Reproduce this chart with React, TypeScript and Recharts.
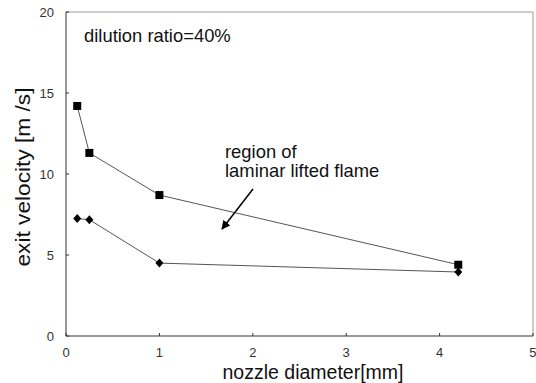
import React from "react";
import { LineChart, Line, XAxis, YAxis, ReferenceLine } from "recharts";

const squareX = [0.12, 0.25, 1.0, 4.2];
const squareY = [14.2, 11.3, 8.7, 4.4];
const diamondX = [0.12, 0.25, 1.0, 4.2];
const diamondY = [7.25, 7.18, 4.5, 3.95];
const xTicks = [0, 1, 2, 3, 4, 5];
const yTicks = [0, 5, 10, 15, 20];

const squareData = squareX.map((x, i) => ({ x, y: squareY[i] }));
const diamondData = diamondX.map((x, i) => ({ x, y: diamondY[i] }));

const SquareDot = (props: any) => {
  const { cx, cy } = props;
  if (cx == null || cy == null) return null;
  return <rect x={cx - 4} y={cy - 4} width={8} height={8} fill="#000" />;
};

const DiamondDot = (props: any) => {
  const { cx, cy } = props;
  if (cx == null || cy == null) return null;
  return (
    <path
      d={`M${cx},${cy - 4.5} L${cx + 4},${cy} L${cx},${cy + 4.5} L${cx - 4},${cy} Z`}
      fill="#000"
    />
  );
};

const FONT = "'Liberation Sans', Arial, sans-serif";

export default function App() {
  return (
    <div style={{ position: "absolute", left: 0, top: 0, width: 536, height: 383, background: "#fff" }}>
      <LineChart
        width={536}
        height={383}
        margin={{ top: 12, right: 3, bottom: 17, left: 26 }}
      >
        <ReferenceLine y={20} stroke="#9a9a9a" />
        <ReferenceLine x={5} stroke="#9a9a9a" />
        <XAxis
          dataKey="x"
          type="number"
          domain={[0, 5]}
          ticks={xTicks}
          allowDuplicatedCategory={false}
          height={30}
          stroke="#333"
          tickSize={-3}
          tickMargin={15}
          tick={{ fill: "#333", fontSize: 13, fontFamily: FONT }}
        />
        <YAxis
          dataKey="y"
          type="number"
          domain={[0, 20]}
          ticks={yTicks}
          width={40}
          stroke="#333"
          tickSize={-3}
          tickMargin={15}
          tick={{ fill: "#333", fontSize: 13, fontFamily: FONT }}
        />
        <Line
          data={squareData}
          dataKey="y"
          stroke="#555"
          strokeWidth={1}
          dot={<SquareDot />}
          activeDot={false}
          isAnimationActive={false}
        />
        <Line
          data={diamondData}
          dataKey="y"
          stroke="#555"
          strokeWidth={1}
          dot={<DiamondDot />}
          activeDot={false}
          isAnimationActive={false}
        />
      </LineChart>
      <svg
        width={536}
        height={383}
        style={{ position: "absolute", left: 0, top: 0, pointerEvents: "none" }}
      >
        <defs>
          <marker id="ah" viewBox="0 0 10 10" refX="9" refY="5" markerWidth="9" markerHeight="9" orient="auto-start-reverse" markerUnits="userSpaceOnUse">
            <path d="M0,0 L10,5 L0,10 Z" fill="#000" />
          </marker>
        </defs>
        <g fontFamily={FONT} fill="#111">
          <text x={84} y={42} fontSize={18.4}>dilution ratio=40%</text>
          <text x={225} y={158} fontSize={18.4}>region of</text>
          <text x={225} y={177} fontSize={18.4}>laminar lifted flame</text>
          <text x={313} y={379} fontSize={19.5} textAnchor="middle">nozzle diameter[mm]</text>
          <text
            x={0}
            y={0}
            fontSize={20}
            textAnchor="middle"
            transform="translate(30,177) rotate(-90)"
            textLength={179}
            lengthAdjust="spacingAndGlyphs"
          >
            exit velocity [m /s]
          </text>
        </g>
        <line x1={253} y1={189} x2={222} y2={229} stroke="#000" strokeWidth={1.5} markerEnd="url(#ah)" />
      </svg>
    </div>
  );
}
